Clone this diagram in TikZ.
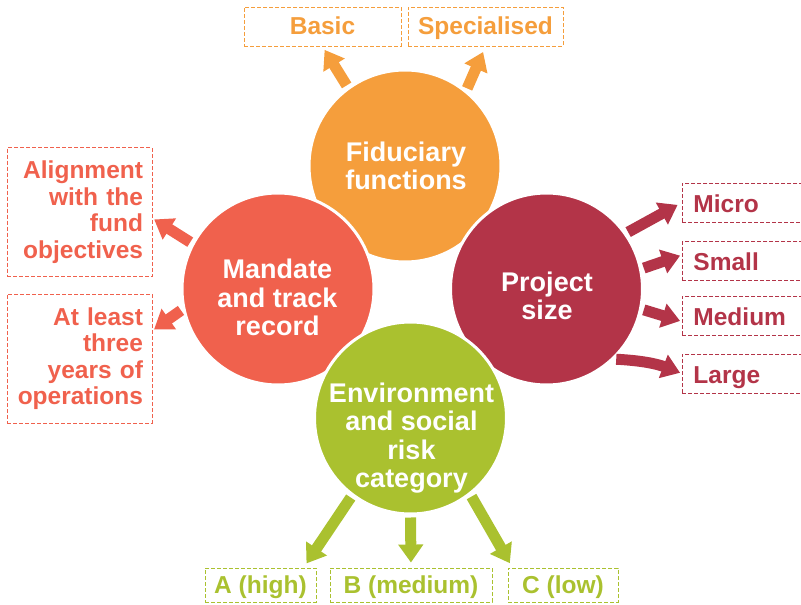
\documentclass[tikz,border=0pt]{standalone}
\usepackage{fontspec}
\setmainfont{Liberation Sans}
\usetikzlibrary{arrows.meta}
\definecolor{fidorange}{HTML}{F59E3C}
\definecolor{mancoral}{HTML}{F0614D}
\definecolor{sizered}{HTML}{B33448}
\definecolor{envgreen}{HTML}{AAC12F}
\begin{document}
\begin{tikzpicture}[
	x=1pt, y=-1pt,
	bigcircle/.style={shape=circle, draw=white, line width=3pt, minimum size=192pt, fill=#1},
	bigtext/.style={text=white, align=center, font=\fontsize{27}{28.5}\selectfont\bfseries},
	optbox/.style={shape=rectangle, draw=#1, text=#1, dash pattern=on 4pt off 2pt, line width=0.9pt, font=\fontsize{24.5}{26.5}\selectfont\bfseries},
	linebox/.style={optbox=#1, text height=17pt, text depth=1pt},
	leftbox/.style={optbox=mancoral, text width=127pt, inner xsep=9pt, align=right, minimum height=129pt},
	rightbox/.style={optbox=sizered, anchor=west, text width=130pt, inner xsep=11pt, align=left, minimum height=39pt, text height=19pt, text depth=0pt},
	blockarrow/.style={draw=#1, line width=11pt, -{Triangle[length=18pt,width=24pt]}, shorten <=2pt},
]
\useasboundingbox (0,0) rectangle (801,605);

\node[bigcircle=fidorange] (fid) at (405,166) {};
\node[bigcircle=mancoral] (man) at (278,289) {};
\node[bigcircle=sizered] (size) at (546.5,289) {};
\node[bigcircle=envgreen] (env) at (410.5,418) {};

\node[bigtext] (fidtext) at (406,166) {Fiduciary\\functions};
\node[bigtext] (mantext) at (277.5,297.5) {Mandate\\and track\\record};
\node[bigtext] (sizetext) at (547,296) {Project\\size};
\node[bigtext] (envtext) at (411.5,438) {Environment\\and social\\risk\\category};

\node[linebox=fidorange, minimum width=157pt, minimum height=39pt] (basic) at (322.5,26.5) {Basic};
\node[linebox=fidorange, minimum width=155pt, minimum height=39pt] (spec) at (485.5,26.5) {Specialised};

\node[leftbox] (align) at (79.5,212) {Alignment\\with the\\fund\\objectives};
\node[leftbox] (atleast) at (79.5,358.5) {At least\\three\\years of\\operations};

\node[rightbox] (micro) at (682,202.5) {Micro};
\node[rightbox] (small) at (682,261) {Small};
\node[rightbox] (medium) at (682,315.5) {Medium};
\node[rightbox] (large) at (682,373.5) {Large};

\node[linebox=envgreen, minimum width=111pt, minimum height=34pt] (ahigh) at (260.5,585) {A (high)};
\node[linebox=envgreen, minimum width=162pt, minimum height=34pt] (bmed) at (411,585) {B (medium)};
\node[linebox=envgreen, minimum width=110pt, minimum height=34pt] (clow) at (563,585) {C (low)};

\draw[blockarrow=fidorange, shorten >=4pt] (fid.126) -- (basic.south);
\draw[blockarrow=fidorange, shorten >=6pt] (fid.51) -- (spec.south);

\draw[blockarrow=mancoral, shorten >=2pt] (man.152) -- (align.-5);
\draw[blockarrow=mancoral, shorten >=2pt] (man.192) -- (atleast.21);

\draw[blockarrow=sizered, shorten >=5pt] (size.35) -- (micro.west);
\draw[blockarrow=sizered, shorten >=2pt] (size.12) -- ([yshift=6pt]small.west);
\draw[blockarrow=sizered, shorten >=2pt] (size.-12) -- ([yshift=-6pt]medium.west);
\draw[blockarrow=sizered, shorten >=2pt] (size.-46) to[bend left=9] (large.west);

\draw[blockarrow=envgreen, shorten >=5pt] (env.233) -- (ahigh.22);
\draw[blockarrow=envgreen, shorten >=5pt] (env.south) -- (bmed.north);
\draw[blockarrow=envgreen, shorten >=5pt] (env.308) -- (clow.161);
\end{tikzpicture}
\end{document}
